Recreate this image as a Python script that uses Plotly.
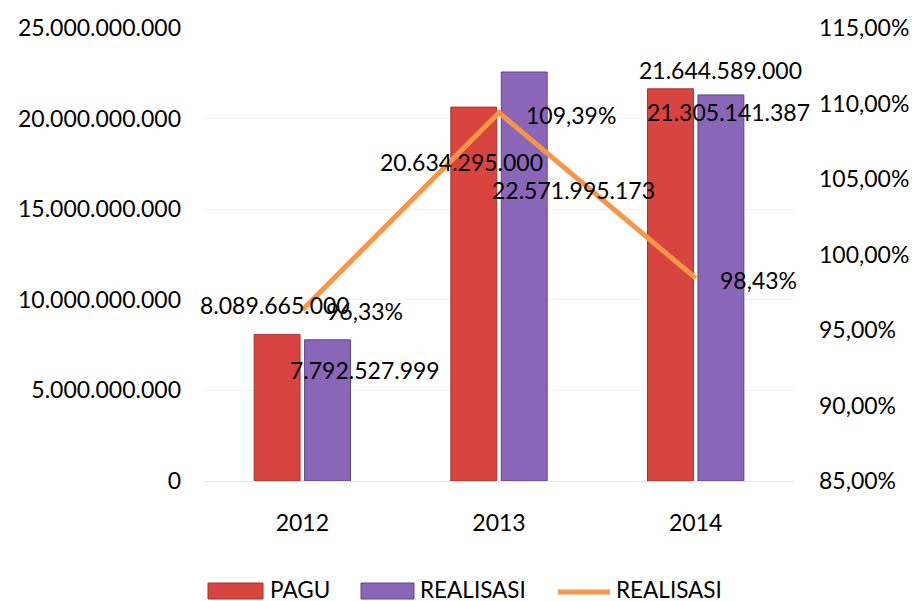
import plotly.graph_objects as go

years = ["2012", "2013", "2014"]
pagu = [8089665000, 20634295000, 21644589000]
realisasi = [7792527999, 22571995173, 21305141387]
persen = [96.33, 109.39, 98.43]

pagu_labels = ["8.089.665.000", "20.634.295.000", "21.644.589.000"]
real_labels = ["7.792.527.999", "22.571.995.173", "21.305.141.387"]
pct_labels = ["96,33%", "109,39%", "98,43%"]

left_ticks = [0, 5e9, 10e9, 15e9, 20e9, 25e9]
left_text = ["0", "5.000.000.000", "10.000.000.000", "15.000.000.000", "20.000.000.000", "25.000.000.000"]
right_ticks = [85, 90, 95, 100, 105, 110, 115]
right_text = ["85,00%", "90,00%", "95,00%", "100,00%", "105,00%", "110,00%", "115,00%"]

FONT = "Lato"
RED = "#D8443F"
PURPLE = "#8A66B8"
ORANGE = "#F79646"

W, H = 917, 601
ML, MR, MT, MB = 204, 123, 28, 120
PW, PH = W - ML - MR, H - MT - MB


def px(x):
    return (x - ML) / PW


def py(y):
    return (H - MB - y) / PH


fig = go.Figure()
fig.add_trace(go.Bar(x=years, y=pagu, name="PAGU",
                     marker=dict(color=RED, line=dict(color="#A23431", width=1))))
fig.add_trace(go.Bar(x=years, y=realisasi, name="REALISASI",
                     marker=dict(color=PURPLE, line=dict(color="#5E4585", width=1))))
fig.add_trace(go.Scatter(x=years, y=persen, name="REALISASI", yaxis="y2",
                         mode="lines", line=dict(color=ORANGE, width=5)))

ann = []
pagu_off = [(-27, 29), (-38, -55), (25, 19)]
for i in range(3):
    ann.append(dict(x=i, y=pagu[i], text=pagu_labels[i], xref="x", yref="y",
                    showarrow=False, xshift=pagu_off[i][0], yshift=pagu_off[i][1]))
real_off = [(63, -30), (74, -118), (33, -17)]
for i in range(3):
    ann.append(dict(x=i, y=realisasi[i], text=real_labels[i], xref="x", yref="y",
                    showarrow=False, xshift=real_off[i][0], yshift=real_off[i][1]))
pct_off = [(62, -1), (72, -2), (63, -2)]
for i in range(3):
    ann.append(dict(x=i, y=persen[i], text=pct_labels[i], xref="x", yref="y2",
                    showarrow=False, xshift=pct_off[i][0], yshift=pct_off[i][1]))

# custom legend
shapes = []
leg_y0, leg_y1 = py(599), py(583)
shapes.append(dict(type="rect", xref="paper", yref="paper", x0=px(208), x1=px(263),
                   y0=leg_y0, y1=leg_y1, fillcolor=RED, line=dict(color="#A23431", width=1)))
shapes.append(dict(type="rect", xref="paper", yref="paper", x0=px(361), x1=px(414),
                   y0=leg_y0, y1=leg_y1, fillcolor=PURPLE, line=dict(color="#5E4585", width=1)))
shapes.append(dict(type="line", xref="paper", yref="paper", x0=px(558), x1=px(610),
                   y0=py(592), y1=py(592), line=dict(color=ORANGE, width=5)))
leg_items = [("PAGU", 268), ("REALISASI", 418), ("REALISASI", 614)]
for txt, x in leg_items:
    ann.append(dict(x=px(x), y=py(589), xref="paper", yref="paper", text=txt,
                    showarrow=False, xanchor="left", yanchor="middle",
                    font=dict(size=22.5)))

fig.update_layout(
    width=W, height=H,
    margin=dict(l=ML, r=MR, t=MT, b=MB),
    paper_bgcolor="white", plot_bgcolor="white",
    font=dict(family=FONT, size=23, color="black"),
    barmode="group", bargap=0.487, bargroupgap=0.09,
    annotations=ann, shapes=shapes,
    xaxis=dict(type="category", range=[-0.5, 2.5], showgrid=False, showline=True,
               linecolor="#E3E3E3", ticks="", tickfont=dict(size=23),
               ticklabelstandoff=21, automargin=False),
    yaxis=dict(range=[0, 25e9], tickvals=left_ticks, ticktext=left_text,
               showgrid=True, gridcolor="#F4F4F4", zeroline=False, showline=False,
               ticklabelstandoff=22, automargin=False),
    yaxis2=dict(range=[85, 115], tickvals=right_ticks, ticktext=right_text,
                overlaying="y", side="right", showgrid=False, zeroline=False,
                showline=False, ticklabelstandoff=24, automargin=False),
    showlegend=False,
)
fig.write_html("out.html", config={"displayModeBar": False},
               post_script="document.body.style.margin='0';")
